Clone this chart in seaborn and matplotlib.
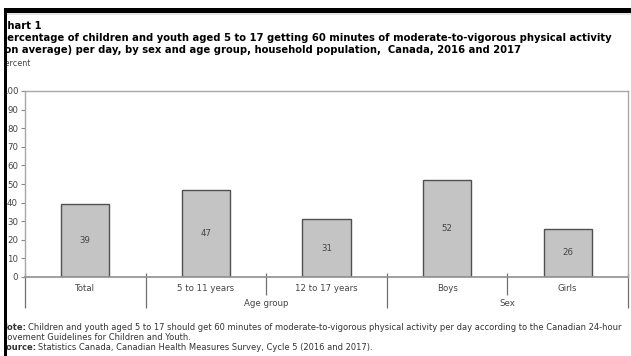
import matplotlib
matplotlib.use("Agg")
import matplotlib.pyplot as plt
import matplotlib.transforms as mtransforms
from matplotlib.patches import Rectangle
import seaborn as sns
import pandas as pd

# Chart data
categories = ["Total", "5 to 11 years", "12 to 17 years", "Boys", "Girls"]
percent = [39, 47, 31, 52, 26]
group_names = ["Age group", "Sex"]
group_spans = [(1, 2), (3, 4)]          # first/last category index of each group
y_ticks = list(range(0, 101, 10))

title_line0 = "Chart 1"
title_lines = ("Percentage of children and youth aged 5 to 17 getting 60 minutes of moderate-to-vigorous physical activity\n"
               "(on average) per day, by sex and age group, household population,  Canada, 2016 and 2017")
unit_label = "Percent"
note_head = "Note:"
note_lines = ["Children and youth aged 5 to 17 should get 60 minutes of moderate-to-vigorous physical activity per day "
              "according to the Canadian 24-hour",
              "Movement Guidelines for Children and Youth."]
source_head = "Source:"
source_text = "Statistics Canada, Canadian Health Measures Survey, Cycle 5 (2016 and 2017)."

sns.set_theme(style="white")
plt.rcParams["font.family"] = ["DejaVu Sans"]

W, H = 631, 356
fig = plt.figure(figsize=(W / 100, H / 100), dpi=100)
fig.patch.set_facecolor("white")

def fx(px):
    return px / W

def fy(py):
    return 1 - py / H

ax = fig.add_axes([fx(25), fy(277), fx(628) - fx(25), fy(91) - fy(277)])

df = pd.DataFrame({"category": categories, "percent": percent})
sns.barplot(data=df, x="category", y="percent", color="#c4c4c4", edgecolor="#505050",
            linewidth=1.0, width=0.4, saturation=1, ax=ax)

ax.set_xlim(-0.5, len(categories) - 0.5)
ax.set_ylim(0, 100)
ax.set_yticks(y_ticks)
ax.set_yticklabels([str(t) for t in y_ticks], fontsize=6.2, color="#444444")
ax.tick_params(axis="y", length=3, width=0.8, color="#888888", pad=2, left=True)
ax.set_xticks([])
ax.set_xlabel("")
ax.set_ylabel("")
for side in ["top", "right", "left"]:
    ax.spines[side].set_color("#a8a8a8")
    ax.spines[side].set_linewidth(1.0)
ax.spines["bottom"].set_color("#909090")
ax.spines["bottom"].set_linewidth(1.2)

# Value labels inside bars
for i, v in enumerate(percent):
    ax.text(i, v / 2, str(v), ha="center", va="center", fontsize=6.2, color="#444444")

# Category and group labels with separators below the axis
blend = mtransforms.blended_transform_factory(ax.transData, ax.transAxes)
for i, c in enumerate(categories):
    ax.text(i, -0.062, c, transform=blend, ha="center", va="center", fontsize=6.2, color="#444444")
for name, (a, b) in zip(group_names, group_spans):
    ax.text((a + b) / 2, -0.145, name, transform=blend, ha="center", va="center",
            fontsize=6.2, color="#444444")

group_edges = {-0.5, len(categories) - 0.5}
for a, b in group_spans:
    group_edges.add(a - 0.5)
    group_edges.add(b + 0.5)
for k in range(len(categories) + 1):
    xpos = k - 0.5
    y1 = -0.167 if xpos in group_edges else -0.097
    ax.plot([xpos, xpos], [0.02, y1], transform=blend, color="#707070", lw=0.9,
            clip_on=False, solid_capstyle="butt")

# Titles and unit label
fig.text(fx(0), fy(26), title_line0, fontsize=7.2, fontweight="bold", color="black",
         ha="left", va="center")
fig.text(fx(0), fy(44), title_lines, fontsize=7.2, fontweight="bold", color="black",
         ha="left", va="center", linespacing=1.3)
fig.text(fx(0), fy(64), unit_label, fontsize=5.8, color="#444444", ha="left", va="center")

# Footnotes: bold lead-in followed by regular text
renderer = fig.canvas.get_renderer()
foot_size = 6.05

def lead_in(y_px, head, body):
    t = fig.text(fx(0), fy(y_px), head, fontsize=foot_size, fontweight="bold",
                 color="#333333", ha="left", va="center")
    w = t.get_window_extent(renderer).width
    fig.text(fx(w + 2), fy(y_px), body, fontsize=foot_size, color="#333333",
             ha="left", va="center")

lead_in(328, note_head, note_lines[0])
fig.text(fx(0), fy(338), note_lines[1], fontsize=foot_size, color="#333333",
         ha="left", va="center")
lead_in(348, source_head, source_text)

# Page frame edges
fig.add_artist(Rectangle((0, fy(8)), 1, fy(0) - fy(8), transform=fig.transFigure,
                         facecolor="white", edgecolor="none", zorder=10))
fig.add_artist(Rectangle((0, 0), fx(4), 1, transform=fig.transFigure,
                         facecolor="white", edgecolor="none", zorder=10))
fig.add_artist(Rectangle((fx(4), 0), fx(2.5), fy(8), transform=fig.transFigure,
                         facecolor="black", edgecolor="none", zorder=11))
fig.add_artist(Rectangle((fx(4), fy(12.5)), 1, fy(8) - fy(12.5), transform=fig.transFigure,
                         facecolor="black", edgecolor="none", zorder=11))
fig.add_artist(Rectangle((fx(6.5), fy(15)), 1, fy(12.5) - fy(15), transform=fig.transFigure,
                         facecolor="#e4e4e4", edgecolor="none", zorder=10))

fig.savefig("out.png", dpi=100)
